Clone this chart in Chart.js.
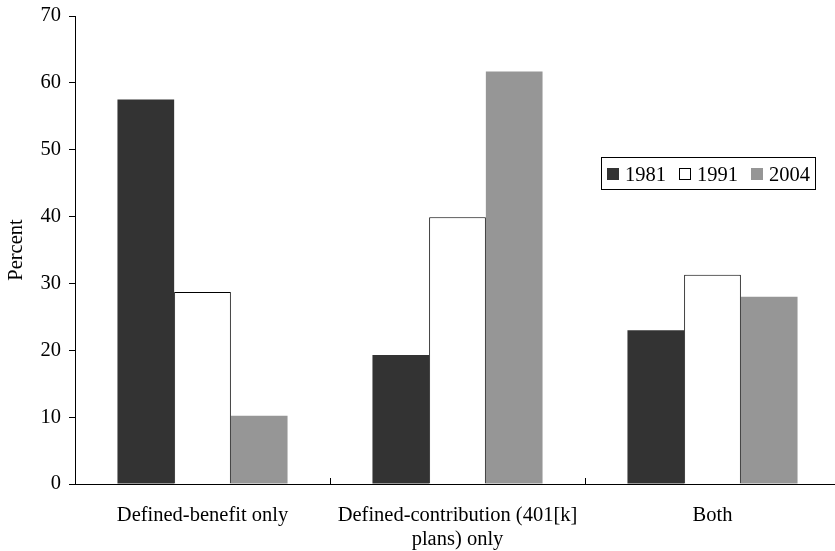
<!DOCTYPE html>
<html>
<head>
<meta charset="utf-8">
<title>Pension plan coverage by type</title>
<script src="https://cdn.jsdelivr.net/npm/chart.js@4.4.1/dist/chart.umd.min.js"></script>
<style>
  html, body { margin: 0; padding: 0; background: #fff; overflow: hidden; }
  #wrap { width: 840px; height: 551px; }
</style>
</head>
<body>
<div id="wrap"><canvas id="c" width="840" height="551"></canvas></div>
<script>
// Plan types (x categories); the long one wraps onto two lines
const categories = ['Defined-benefit only', ['Defined-contribution (401[k]', 'plans) only'], 'Both'];
const years = ['1981', '1991', '2004'];

// Percent of workers covered, by year
const values1981 = [57.5, 19.3, 23.0];
const values1991 = [28.7, 39.9, 31.3];
const values2004 = [10.2, 61.7, 28.0];

// Y axis tick labels
const yTicks = [0, 10, 20, 30, 40, 50, 60, 70];

const FONT = { family: '"Liberation Serif", "Times New Roman", serif', size: 20.5 };

// Small upward tick marks on the category axis at group boundaries
const innerTicks = {
  id: 'innerTicks',
  afterDatasetsDraw(chart) {
    const xs = chart.scales.x;
    const n = chart.data.labels.length;
    const ctx = chart.ctx;
    ctx.save();
    ctx.strokeStyle = '#000';
    ctx.lineWidth = 1;
    ctx.beginPath();
    for (let i = 1; i < n; i++) {
      const x = Math.round(xs.left + i * xs.width / n) + 0.5;
      ctx.moveTo(x, xs.top - 6);
      ctx.lineTo(x, xs.top);
    }
    ctx.stroke();
    ctx.restore();
  }
};

// Boxed legend inside the plot area
const boxLegend = {
  id: 'boxLegend',
  afterDraw(chart) {
    const ctx = chart.ctx;
    const sets = chart.data.datasets;
    const box = { x: 601, y: 157, h: 32 };
    const sq = 12, gap = 6, spacing = 13, padL = 6, padR = 5;
    ctx.save();
    ctx.font = `${FONT.size}px ${FONT.family}`;
    ctx.textBaseline = 'alphabetic';
    let w = padL;
    sets.forEach((d, i) => {
      w += sq + gap + ctx.measureText(d.label).width;
      if (i < sets.length - 1) w += spacing;
    });
    w += padR;
    ctx.fillStyle = '#fff';
    ctx.fillRect(box.x, box.y, w, box.h);
    ctx.strokeStyle = '#000';
    ctx.lineWidth = 1;
    ctx.strokeRect(box.x + 0.5, box.y + 0.5, w, box.h);
    let x = box.x + padL;
    const cy = box.y + box.h / 2;
    sets.forEach((d) => {
      ctx.fillStyle = d.backgroundColor;
      ctx.fillRect(x, cy - sq / 2 + 1, sq, sq);
      if (d.borderWidth) {
        ctx.strokeStyle = d.borderColor;
        ctx.strokeRect(x + 0.5, cy - sq / 2 + 1.5, sq - 1, sq - 1);
      }
      x += sq + gap;
      ctx.fillStyle = '#000';
      ctx.fillText(d.label, x, cy + 7.5);
      x += ctx.measureText(d.label).width + spacing;
    });
    ctx.restore();
  }
};

const barStyle = { barPercentage: 1.0, categoryPercentage: 0.667, borderSkipped: 'start' };

new Chart(document.getElementById('c'), {
  type: 'bar',
  data: {
    labels: categories,
    datasets: [
      Object.assign({ label: years[0], data: values1981, backgroundColor: '#333333', borderWidth: 0 }, barStyle),
      Object.assign({ label: years[1], data: values1991, backgroundColor: '#ffffff', borderColor: '#000000', borderWidth: 1 }, barStyle),
      Object.assign({ label: years[2], data: values2004, backgroundColor: '#969696', borderWidth: 0 }, barStyle)
    ]
  },
  options: {
    responsive: false,
    animation: false,
    devicePixelRatio: 1,
    layout: { padding: { top: 16, right: 0, bottom: 0, left: 0 } },
    plugins: {
      legend: { display: false },
      tooltip: { enabled: false }
    },
    scales: {
      x: {
        type: 'category',
        offset: true,
        grid: { display: true, offset: true, drawOnChartArea: false, drawTicks: false },
        border: { display: true, color: '#000', width: 1 },
        ticks: { color: '#000', font: FONT, padding: 19, maxRotation: 0, autoSkip: false },
        afterFit(scale) { scale.height = 67; }
      },
      y: {
        min: 0,
        max: 70,
        afterBuildTicks(scale) { scale.ticks = yTicks.map(v => ({ value: v })); },
        grid: { drawOnChartArea: false, drawTicks: true, tickLength: 6, color: '#000' },
        border: { display: true, color: '#000', width: 1 },
        ticks: { color: '#000', font: FONT, padding: 8 },
        title: { display: true, text: 'Percent', color: '#000', font: FONT, padding: { top: 4, bottom: 0 } },
        afterFit(scale) {
          scale.width = 75;
          scale.paddingTop = 0;
          scale.paddingBottom = 0;
        }
      }
    }
  },
  plugins: [innerTicks, boxLegend]
});
</script>
</body>
</html>
